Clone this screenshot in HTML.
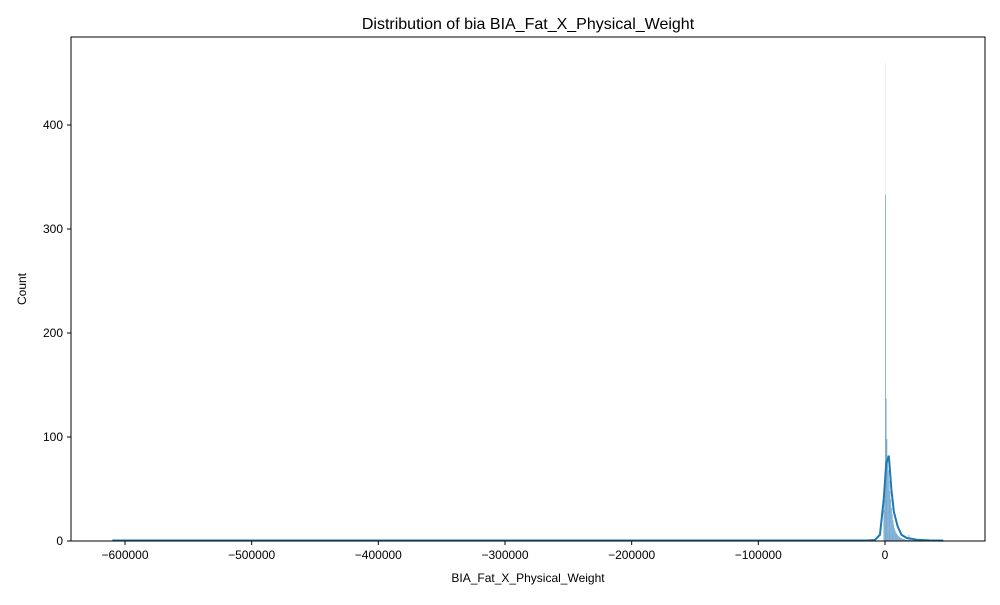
<!DOCTYPE html>
<html><head><meta charset="utf-8"><style>
body{margin:0;background:#fff;font-family:"Liberation Sans",sans-serif}
</style></head><body>
<svg id="chart" width="1000" height="600" font-family="Liberation Sans, sans-serif">
<rect width="1000" height="600" fill="#fff"/>
<text x="528" y="29" font-size="16" text-anchor="middle">Distribution of bia BIA_Fat_X_Physical_Weight</text>
<g id="bars"></g>
<path id="kde" fill="none" stroke="#1f77b4" stroke-width="2"/>
<rect x="71" y="37" width="914" height="504" fill="none" stroke="#000" stroke-width="1"/>
<g id="xt" font-size="12"></g>
<g id="yt" font-size="12"></g>
<text x="528" y="582" font-size="12" text-anchor="middle">BIA_Fat_X_Physical_Weight</text>
<text transform="translate(26,289) rotate(-90)" font-size="12" text-anchor="middle">Count</text>
</svg>
<script>
const xTicks=[-600000,-500000,-400000,-300000,-200000,-100000,0];
const yTicks=[0,100,200,300,400];
const binStart=-1200;
const binWidth=600;
const counts=[30,40,333,137,98,80,68,58,48,40,32,26,20,16,12,10,8,7,6,5,4,4,3,3,2,2,2,2,1,1,1,1,1,6,1,1,1,0,1,1];
const kdeX=[-610000,-100000,-15000,-8000,-4000,-1000,1000,3000,5000,7000,10000,13000,17000,25000,35000,46000];
const kdeY=[0.5,0.5,0.5,1,6,40,75,82,50,28,14,6,3,1.2,0.6,0.4];
const xs=v=>885+v*(760/600000);
const ys=v=>541-v*1.04;
const NS="http://www.w3.org/2000/svg";
const bars=document.getElementById('bars');
const fb=document.createElementNS(NS,'rect');
fb.setAttribute('x',xs(0));fb.setAttribute('y',ys(460));fb.setAttribute('width',1);fb.setAttribute('height',ys(0)-ys(460));fb.setAttribute('fill','#dde8f2');fb.setAttribute('opacity','0.5');


bars.appendChild(fb);
counts.forEach((c,i)=>{
 const x0=xs(binStart+i*binWidth),x1=xs(binStart+(i+1)*binWidth);
 const r=document.createElementNS(NS,'rect');
 r.setAttribute('x',x0);r.setAttribute('y',ys(c));r.setAttribute('width',Math.max(x1-x0,0.6));r.setAttribute('height',ys(0)-ys(c));
 r.setAttribute('fill','#5d9ac8');r.setAttribute('opacity','0.85');
 
 
 bars.appendChild(r);
});
document.getElementById('kde').setAttribute('d',kdeX.map((x,i)=>(i?'L':'M')+xs(x)+','+ys(kdeY[i])).join(''));
const xt=document.getElementById('xt');
xTicks.forEach(t=>{
 const x=xs(t);
 xt.insertAdjacentHTML('beforeend',`<line x1="${x}" x2="${x}" y1="541" y2="545" stroke="#000"/><text x="${x}" y="559" text-anchor="middle">${t<0?'\u2212'+(-t):t}</text>`);
});
const yt=document.getElementById('yt');
yTicks.forEach(t=>{
 const y=ys(t);
 yt.insertAdjacentHTML('beforeend',`<line x1="67" x2="71" y1="${y}" y2="${y}" stroke="#000"/><text x="63" y="${y+4}" text-anchor="end">${t}</text>`);
});
</script>
</body></html>
